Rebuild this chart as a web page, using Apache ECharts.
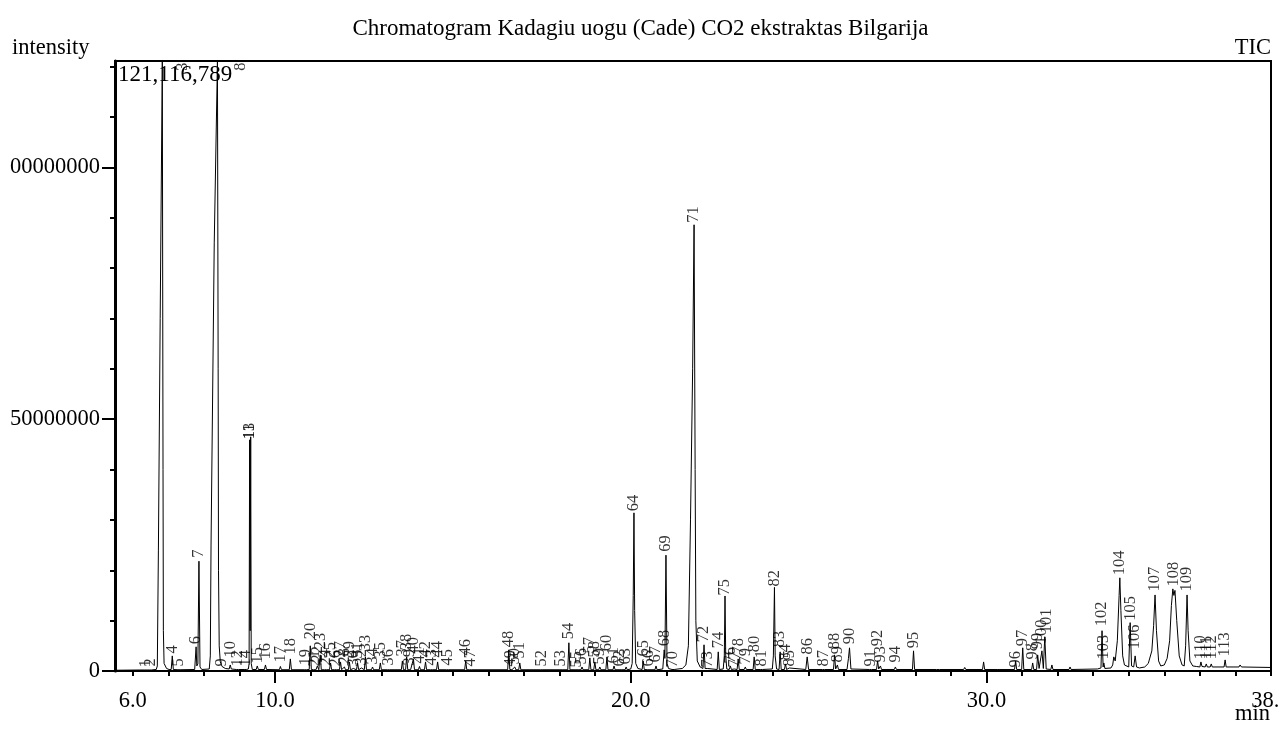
<!DOCTYPE html>
<html><head><meta charset="utf-8">
<script src="https://cdn.jsdelivr.net/npm/echarts@6/dist/echarts.min.js"></script>
<style>html,body{margin:0;padding:0;background:#fff}#c{width:1281px;height:733px}</style>
</head><body><div id="c"></div>
<script>
// ---------- texts ----------
const titleText = 'Chromatogram Kadagiu uogu (Cade) CO2 ekstraktas Bilgarija';
const yAxisName = 'intensity';
const traceName = 'TIC';
const xAxisName = 'min';
const maxIntensityText = '121,116,789';

// ---------- axes ----------
const xMin = 5.5, xMax = 38;
const yMax = 121116789;
const xTickLabels = [6, 10, 20, 30, 38];
const xMajorTicks = [10, 20, 30];
const xMinorTicks = [6,7,8,9,10,11,12,13,14,15,16,17,18,19,20,21,22,23,24,25,26,27,28,29,30,31,32,33,34,35,36,37,38];
const yLabelValues = [0, 50000000, 100000000];
const yMinorTicks = [0,10000000,20000000,30000000,40000000,50000000,60000000,70000000,80000000,90000000,100000000,110000000,120000000];

// ---------- chromatogram trace: [retention time (min), intensity (millions)] ----------
const tracePoints = [
[5.50,0.15],[6.20,0.2],
[6.34,0.2],[6.37,0.5],[6.40,0.2],
[6.46,0.2],[6.49,0.5],[6.52,0.2],
[6.66,0.3],[6.69,1.0],[6.72,24],[6.77,70],[6.83,121.12],[6.85,40],[6.86,8],[6.88,1.5],[6.95,0.5],[7.02,0.3],
[7.08,0.3],[7.11,3.0],[7.14,0.3],
[7.27,0.25],[7.30,0.6],[7.33,0.25],
[7.74,0.3],[7.78,4.8],[7.80,1.0],[7.83,1.4],[7.86,21.8],[7.89,0.8],[7.94,0.3],
[8.15,0.4],[8.18,3],[8.20,25],[8.29,85],[8.38,121.1],[8.40,60],[8.41,20],[8.43,5],[8.46,1.8],[8.51,0.9],[8.60,0.5],
[8.71,0.4],[8.74,1.2],[8.77,0.4],
[8.91,0.3],[8.94,0.6],[8.97,0.3],
[9.13,0.3],[9.16,0.6],[9.19,0.3],
[9.25,0.4],[9.27,1.5],[9.285,45.9],[9.30,8],[9.315,46.5],[9.33,1.5],[9.36,0.3],
[9.47,0.3],[9.50,1.0],[9.53,0.3],
[9.70,0.3],[9.73,1.2],[9.76,0.3],
[10.12,0.25],[10.15,0.9],[10.18,0.25],
[10.40,0.25],[10.43,2.4],[10.46,0.25],
[10.82,0.25],[10.85,0.6],[10.88,0.25],
[10.96,0.3],[10.99,5.0],[11.02,0.3],
[11.08,0.25],[11.11,0.5],[11.15,0.25],[11.19,1.0],[11.23,0.25],[11.27,3.2],[11.30,0.25],
[11.39,0.25],[11.42,0.6],[11.45,0.25],
[11.53,0.25],[11.56,1.6],[11.59,0.25],
[11.67,0.25],[11.70,0.5],[11.73,0.25],
[11.81,0.25],[11.84,1.8],[11.87,0.25],
[11.92,0.25],[11.95,0.8],[11.98,0.25],
[12.06,0.25],[12.09,1.8],[12.12,0.25],
[12.17,0.25],[12.20,0.5],[12.23,0.25],
[12.29,0.25],[12.32,1.6],[12.35,0.25],
[12.40,0.25],[12.43,0.6],[12.46,0.25],
[12.51,0.25],[12.54,2.8],[12.57,0.25],
[12.71,0.25],[12.74,0.8],[12.77,0.25],
[12.93,0.25],[12.96,1.6],[12.99,0.25],
[13.16,0.25],[13.19,0.6],[13.22,0.25],
[13.55,0.25],[13.58,2.0],[13.61,0.25],
[13.67,0.25],[13.70,2.8],[13.73,0.25],[13.78,0.6],[13.81,0.25],
[13.86,0.25],[13.89,2.4],[13.92,0.25],
[14.03,0.25],[14.06,0.9],[14.09,0.25],
[14.20,0.25],[14.23,1.8],[14.26,0.25],
[14.37,0.25],[14.40,0.6],[14.43,0.25],
[14.54,0.25],[14.57,1.8],[14.60,0.25],
[14.82,0.25],[14.85,0.6],[14.88,0.25],
[15.33,0.25],[15.36,2.0],[15.39,0.25],
[15.47,0.25],[15.50,0.5],[15.53,0.25],
[16.54,0.25],[16.57,4.2],[16.60,0.3],[16.63,0.5],[16.66,0.25],
[16.71,0.25],[16.74,0.8],[16.77,0.25],
[16.85,0.25],[16.88,1.6],[16.91,0.25],
[17.47,0.25],[17.50,0.5],[17.53,0.25],
[18.01,0.25],[18.04,0.5],[18.07,0.25],
[18.23,0.25],[18.26,5.6],[18.29,0.25],
[18.46,0.25],[18.49,0.4],[18.52,0.25],
[18.60,0.25],[18.63,0.8],[18.66,0.25],
[18.82,0.25],[18.85,2.6],[18.88,0.25],
[18.96,0.25],[18.99,1.8],[19.02,0.25],
[19.10,0.25],[19.13,0.8],[19.16,0.25],
[19.30,0.25],[19.33,2.8],[19.36,0.25],
[19.50,0.25],[19.53,1.0],[19.56,0.25],
[19.67,0.25],[19.70,0.5],[19.73,0.25],
[19.84,0.25],[19.87,0.8],[19.90,0.25],
[20.00,0.4],[20.04,1.5],[20.07,15],[20.09,31.4],[20.11,12],[20.14,1.5],[20.20,0.5],
[20.32,0.3],[20.35,2.0],[20.38,0.3],
[20.48,0.25],[20.51,0.5],[20.54,0.25],
[20.68,0.25],[20.71,1.0],[20.74,0.25],
[20.90,0.4],[20.94,4.2],[20.96,2.5],[20.99,23.0],[21.02,1.5],[21.06,0.5],
[21.16,0.3],[21.19,0.4],[21.22,0.3],
[21.45,0.5],[21.55,1.2],[21.62,5],[21.68,30],[21.74,60],[21.78,88.6],[21.81,40],[21.83,10],[21.87,2],[21.95,0.8],
[22.03,0.5],[22.06,5.2],[22.09,0.5],
[22.12,0.4],[22.15,0.5],[22.18,0.4],
[22.43,0.3],[22.46,3.8],[22.49,0.3],
[22.60,0.4],[22.63,3],[22.65,14.9],[22.67,3],[22.70,0.4],
[22.77,0.3],[22.80,1.0],[22.83,0.3],
[22.88,0.3],[22.91,0.4],[22.94,0.3],
[22.99,0.3],[23.02,2.4],[23.05,0.3],
[23.19,0.3],[23.22,0.8],[23.25,0.3],
[23.44,0.3],[23.47,2.8],[23.50,0.3],
[23.64,0.3],[23.67,0.6],[23.70,0.3],
[23.98,0.4],[24.01,3],[24.04,16.6],[24.06,3],[24.10,0.4],
[24.17,0.3],[24.20,3.8],[24.23,0.3],
[24.32,0.3],[24.35,1.4],[24.38,0.3],
[24.43,0.3],[24.46,0.6],[24.49,0.3],
[24.92,0.3],[24.96,2.8],[25.00,0.3],
[25.39,0.3],[25.42,0.6],[25.45,0.3],
[25.70,0.3],[25.73,3.2],[25.76,0.4],[25.81,1.2],[25.84,0.3],
[26.08,0.3],[26.12,2.5],[26.15,4.6],[26.19,0.4],
[26.71,0.3],[26.74,0.6],[26.77,0.3],
[26.91,0.3],[26.94,2.0],[26.97,0.4],[27.02,1.0],[27.05,0.3],
[27.41,0.3],[27.44,0.8],[27.47,0.3],
[27.92,0.3],[27.95,4.0],[27.98,0.3],
[28.60,0.3],[28.64,0.6],[28.68,0.3],
[29.36,0.3],[29.39,0.7],[29.42,0.3],
[29.89,0.3],[29.92,1.8],[29.95,0.3],
[30.30,0.3],[30.34,0.6],[30.38,0.3],
[30.79,0.3],[30.82,2.0],[30.85,0.3],
[30.99,0.3],[31.02,4.6],[31.05,0.3],
[31.27,0.3],[31.30,1.6],[31.33,0.3],
[31.41,0.3],[31.44,3.2],[31.48,0.5],[31.52,0.5],[31.56,4.0],[31.60,0.5],[31.64,6.8],[31.68,0.4],
[31.81,0.3],[31.84,1.2],[31.87,0.3],
[32.32,0.3],[32.35,0.8],[32.38,0.3],
[33.12,0.4],[33.22,0.6],[33.25,8.0],[33.28,0.8],[33.30,1.6],[33.33,0.5],
[33.50,0.6],[33.55,1.2],[33.58,2.8],[33.62,2.0],[33.68,6],[33.73,15],[33.75,18.5],[33.78,12],[33.83,3],[33.88,1.2],
[34.00,0.8],[34.04,9.6],[34.08,1.0],
[34.14,0.8],[34.18,3.0],[34.22,0.8],[34.30,0.6],
[34.45,0.8],[34.55,1.5],[34.65,4],[34.70,9],[34.74,15.1],[34.78,8],[34.84,2],[34.90,1.0],
[35.00,1.2],[35.08,2.5],[35.15,6],[35.20,13],[35.24,16.3],[35.27,15],[35.30,16.0],[35.35,10],[35.42,3],[35.50,1.2],
[35.56,1.0],[35.60,5],[35.64,15.1],[35.67,8],[35.72,2],[35.80,1.0],
[35.90,0.9],[36.00,0.8],[36.03,1.8],[36.06,0.9],[36.15,0.8],[36.18,1.4],[36.21,0.8],[36.29,0.8],[36.32,1.4],[36.35,0.8],
[36.68,0.8],[36.71,2.2],[36.74,0.8],
[37.10,0.8],[37.13,1.2],[37.17,0.8],[38.00,0.7]
];

// ---------- peak numbers: [peak no., retention time (min), label level (millions)] ----------
const peakLabels = [
[1,6.37,0.6],[2,6.49,0.8],[3,7.39,119.1],[4,7.11,3.4],[5,7.30,0.8],[6,7.78,5.2],[7,7.86,22.4],[8,9.02,119.1],[9,8.51,0.8],[10,8.74,2.6],
[11,9.30,45.9],[12,8.94,0.8],[13,9.30,45.9],[14,9.16,0.8],[15,9.50,1.4],[16,9.73,2.2],[17,10.15,1.6],[18,10.43,3.2],[19,10.85,1.0],[20,10.99,6.2],
[21,11.11,0.8],[22,11.19,1.6],[23,11.27,4.2],[24,11.42,1.0],[25,11.56,2.4],[26,11.70,0.8],[27,11.84,2.6],[28,11.95,1.2],[29,12.09,2.6],[30,12.20,0.8],
[31,12.32,2.4],[32,12.43,1.0],[33,12.54,3.8],[34,12.74,1.2],[35,12.96,2.4],[36,13.19,1.0],[37,13.58,2.8],[38,13.70,4.0],[39,13.78,1.0],[40,13.89,3.4],
[41,14.06,1.4],[42,14.23,2.6],[43,14.40,1.0],[44,14.57,2.6],[45,14.85,1.0],[46,15.36,3.0],[47,15.50,0.8],[48,16.57,4.6],[49,16.63,0.8],[50,16.74,1.2],
[51,16.88,2.4],[52,17.50,0.8],[53,18.04,0.8],[54,18.26,6.2],[55,18.49,0.6],[56,18.63,1.2],[57,18.85,3.4],[58,18.99,2.6],[59,19.13,1.2],[60,19.33,3.8],
[61,19.53,1.4],[62,19.70,0.8],[63,19.87,1.2],[64,20.09,31.6],[65,20.35,2.8],[66,20.51,0.8],[67,20.71,1.6],[68,20.94,4.8],[69,20.99,23.6],[70,21.19,0.6],
[71,21.78,88.9],[72,22.06,5.6],[73,22.15,0.6],[74,22.46,4.4],[75,22.65,14.9],[76,22.80,1.4],[77,22.91,0.6],[78,23.02,3.2],[79,23.22,1.2],[80,23.47,3.6],
[81,23.67,0.8],[82,24.04,16.7],[83,24.20,4.6],[84,24.35,2.0],[85,24.46,0.8],[86,24.96,3.2],[87,25.42,0.8],[88,25.73,4.2],[89,25.81,1.6],[90,26.15,5.2],
[91,26.74,0.8],[92,26.94,4.8],[93,27.02,1.6],[94,27.44,1.6],[95,27.95,4.4],[96,30.82,0.6],[97,31.02,4.8],[98,31.30,2.2],[99,31.44,4.2],[100,31.56,5.2],
[101,31.70,7.4],[102,33.25,8.8],[103,33.30,2.2],[104,33.75,18.9],[105,34.06,9.9],[106,34.18,4.2],[107,34.74,15.7],[108,35.25,16.7],[109,35.64,15.7],[110,36.03,2.2],
[111,36.18,2.2],[112,36.32,2.2],[113,36.71,2.8]
];

// ---------- chart ----------
const FONT = '"Liberation Serif", "Times New Roman", serif';
const black = '#000';
const chart = echarts.init(document.getElementById('c'), null, {renderer: 'canvas'});

const txt = (size) => ({fontFamily: FONT, fontSize: size, fontWeight: 'normal', color: black});

chart.setOption({
  animation: false,
  backgroundColor: '#fff',
  title: [
    {text: titleText, left: 'center', top: 17, padding: 0, textStyle: txt(23)},
    {text: yAxisName, left: 12, top: 37, padding: 0, textStyle: txt(22.5)},
    {text: traceName, right: 10, top: 37, padding: 0, textStyle: txt(22.5)},
    {text: xAxisName, right: 11, top: 703, padding: 0, textStyle: txt(22.5)},
    {text: maxIntensityText, left: 118, top: 63, padding: 0, textStyle: txt(23)}
  ],
  grid: {left: 115, right: 10, top: 61, bottom: 62, containLabel: false, outerBoundsMode: 'none',
         show: true, borderColor: black, borderWidth: 2, backgroundColor: 'transparent'},
  xAxis: [
    {type: 'value', min: xMin, max: xMax, position: 'bottom', offset: 0,
     axisLine: {show: true, onZero: false, lineStyle: {color: black, width: 2}},
     axisTick: {show: true, customValues: xMinorTicks, length: 5, lineStyle: {color: black, width: 2}},
     axisLabel: {show: true, customValues: xTickLabels, formatter: v => Number(v).toFixed(1), margin: 19, ...txt(22.5)},
     splitLine: {show: false}},
    {type: 'value', min: xMin, max: xMax, position: 'bottom', offset: 0,
     axisLine: {show: false, onZero: false},
     axisTick: {show: true, customValues: xMajorTicks, length: 12, lineStyle: {color: black, width: 2}},
     axisLabel: {show: false}, splitLine: {show: false}}
  ],
  yAxis: [
    {type: 'value', min: 0, max: yMax, position: 'left', offset: 0,
     axisLine: {show: true, onZero: false, lineStyle: {color: black, width: 3}},
     axisTick: {show: true, customValues: yMinorTicks, length: 5, lineStyle: {color: black, width: 2}},
     axisLabel: {show: true, customValues: yLabelValues, formatter: v => String(v), margin: 15, ...txt(22.5)},
     splitLine: {show: false}},
    {type: 'value', min: 0, max: yMax, position: 'left', offset: 0,
     axisLine: {show: false, onZero: false},
     axisTick: {show: true, customValues: yLabelValues, length: 13, lineStyle: {color: black, width: 2}},
     axisLabel: {show: false}, splitLine: {show: false}}
  ],
  // the reference picture is cut off at its left and lower-right edges
  graphic: [
    {type: 'rect', left: 0, top: 140, shape: {width: 10, height: 300}, style: {fill: '#fff'}, z: 100, silent: true},
    {type: 'rect', left: 1276, top: 684, shape: {width: 5, height: 20}, style: {fill: '#fff'}, z: 100, silent: true}
  ],
  series: [
    {type: 'line', name: traceName, xAxisIndex: 0, yAxisIndex: 0,
     data: tracePoints.map(p => [p[0], p[1] * 1e6]),
     showSymbol: false, symbol: 'none', smooth: false, clip: true, silent: true,
     lineStyle: {color: black, width: 1}, z: 2},
    {type: 'scatter', xAxisIndex: 0, yAxisIndex: 0,
     data: peakLabels.map(p => ({name: String(p[0]), value: [p[1], p[2] * 1e6]})),
     symbol: 'circle', symbolSize: 1, itemStyle: {color: 'rgba(0,0,0,0)'},
     silent: true, clip: false, z: 3,
     label: {show: true, formatter: '{b}', rotate: 90, position: 'top', distance: 0,
             align: 'left', verticalAlign: 'middle', fontFamily: FONT, fontSize: 16.5, color: black}}
  ]
});
</script>
</body></html>
